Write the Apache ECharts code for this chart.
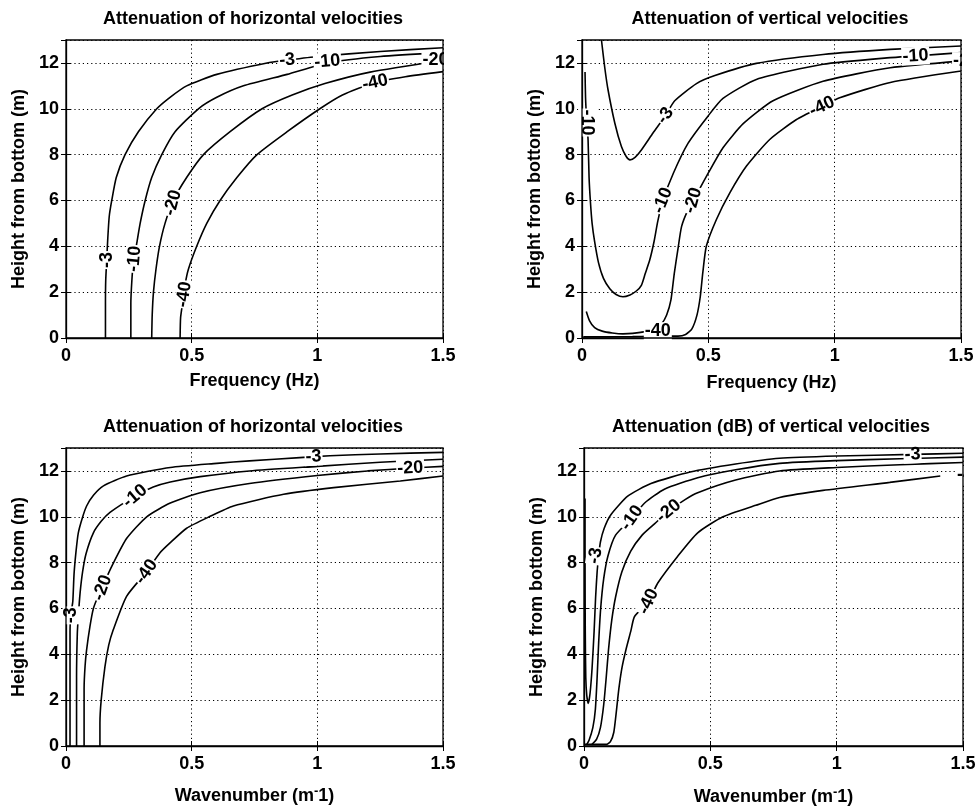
<!DOCTYPE html>
<html>
<head>
<meta charset="utf-8">
<script src="https://cdn.jsdelivr.net/npm/echarts/dist/echarts.min.js"></script>
<style>
html, body { margin: 0; padding: 0; background: #fff; }
#chart { width: 979px; height: 809px; }
</style>
</head>
<body>
<div id="chart"></div>
<script>
// Contour lines of attenuation (dB) versus height above the bottom.
// Each contour is a list of [x, height] points; labels are [x, height, level].

// Horizontal velocities vs frequency (Hz)
const hFreq3  = [[0.157,0],[0.157,1.5],[0.158,2.5],[0.162,3.4],[0.166,4.3],[0.172,5.3],[0.182,6.0],[0.2,7.0],[0.235,8.0],[0.288,9.0],[0.361,10.0],[0.414,10.5],[0.48,11.0],[0.6,11.5],[0.8,12.0],[0.88,12.12],[1.0,12.28],[1.25,12.5],[1.5,12.66]];
const hFreq10 = [[0.258,0],[0.258,1.5],[0.262,2.5],[0.268,3.3],[0.281,4.1],[0.295,5.0],[0.315,6.0],[0.341,7.0],[0.381,8.0],[0.434,9.0],[0.527,10.0],[0.6,10.5],[0.706,11.0],[0.88,11.5],[1.04,12.0],[1.25,12.28],[1.5,12.45]];
const hFreq20 = [[0.341,0],[0.343,1.0],[0.348,2.0],[0.358,3.0],[0.372,4.0],[0.394,5.0],[0.427,6.0],[0.48,7.0],[0.547,8.0],[0.653,9.0],[0.78,10.0],[0.9,10.6],[1.03,11.1],[1.21,11.6],[1.5,12.12]];
const hFreq40 = [[0.454,0],[0.456,0.9],[0.465,1.6],[0.475,2.4],[0.487,3.0],[0.52,4.0],[0.56,5.0],[0.613,6.0],[0.68,7.0],[0.76,8.0],[0.88,9.0],[1.01,10.0],[1.1,10.6],[1.23,11.15],[1.35,11.4],[1.5,11.62]];
const hFreqLabels = [[0.162,3.4,-3],[0.88,12.12,-3],[0.272,3.45,-10],[1.04,12.06,-10],[0.425,5.9,-20],[0.47,1.9,-40],[1.23,11.15,-40]];
const hFreqAngles = [90, 5, 85, 5, 75, 82, 12];
const hFreqEdge = [[1.47,12.12,-20]];

// Vertical velocities vs frequency (Hz)
const vFreq3  = [[0.077,13],[0.09,11.8],[0.103,10.83],[0.13,9.37],[0.156,8.35],[0.175,7.92],[0.19,7.77],[0.21,7.88],[0.235,8.2],[0.281,8.94],[0.33,9.7],[0.367,10.35],[0.453,11.1],[0.526,11.45],[0.69,11.98],[0.954,12.37],[1.22,12.59],[1.5,12.74]];
const vFreq10 = [[0.012,11.6],[0.014,10.5],[0.018,9.6],[0.024,8.65],[0.028,7.0],[0.033,6.0],[0.04,5.0],[0.05,4.2],[0.065,3.3],[0.085,2.6],[0.11,2.15],[0.135,1.9],[0.162,1.8],[0.19,1.88],[0.215,2.05],[0.235,2.3],[0.25,2.8],[0.268,3.4],[0.285,4.2],[0.3,5.1],[0.32,6.0],[0.362,7.2],[0.42,8.5],[0.5,9.7],[0.558,10.45],[0.69,11.28],[0.954,11.94],[1.22,12.23],[1.32,12.3],[1.5,12.45]];
const vFreq20 = [[0.017,1.16],[0.03,0.75],[0.05,0.45],[0.08,0.3],[0.12,0.22],[0.162,0.18],[0.2,0.2],[0.255,0.29],[0.29,0.42],[0.314,0.6],[0.335,1.0],[0.352,1.66],[0.365,2.8],[0.38,3.9],[0.394,4.86],[0.42,5.6],[0.46,6.4],[0.5,7.2],[0.558,8.3],[0.638,9.35],[0.756,10.35],[0.954,11.2],[1.22,11.79],[1.5,12.08]];
const vFreq40 = [[0.005,0.05],[0.1,0.05],[0.2,0.06],[0.3,0.08],[0.38,0.08],[0.41,0.15],[0.435,0.4],[0.455,1.0],[0.468,1.8],[0.478,2.84],[0.492,4.0],[0.532,5.17],[0.585,6.33],[0.651,7.5],[0.743,8.66],[0.849,9.53],[0.95,10.1],[1.02,10.48],[1.22,11.15],[1.5,11.65]];
const vFreqLabels = [[0.33,9.7,-3],[0.02,9.4,-10],[0.32,6.0,-10],[1.32,12.3,-10],[0.44,6.0,-20],[0.3,0.3,-40],[0.95,10.1,-40]];
const vFreqAngles = [55, -90, 68, 3, 74, 0, 25];
const vFreqEdge = [[1.52,12.08,-20]];

// Horizontal velocities vs wavenumber (1/m)
const hWave3  = [[0.016,0],[0.016,3],[0.016,5.0],[0.02,5.8],[0.027,6.3],[0.032,7.5],[0.04,8.5],[0.049,9.3],[0.065,9.95],[0.082,10.47],[0.11,10.95],[0.149,11.35],[0.241,11.78],[0.415,12.15],[0.6,12.33],[0.73,12.44],[0.93,12.58],[1.05,12.66],[1.25,12.74],[1.5,12.81]];
const hWave10 = [[0.042,0],[0.042,3],[0.045,4.9],[0.049,5.65],[0.056,6.67],[0.066,7.6],[0.08,8.4],[0.109,9.3],[0.14,9.8],[0.175,10.19],[0.275,10.9],[0.347,11.3],[0.415,11.52],[0.534,11.75],[0.73,12.0],[1.0,12.2],[1.25,12.38],[1.5,12.51]];
const hWave20 = [[0.072,0],[0.072,2.5],[0.076,3.5],[0.082,4.19],[0.095,5.2],[0.109,6.0],[0.13,6.6],[0.155,7.2],[0.182,7.84],[0.241,9.05],[0.321,10.0],[0.415,10.6],[0.534,11.05],[0.73,11.45],[1.0,11.8],[1.2,12.0],[1.37,12.12],[1.5,12.2]];
const hWave40 = [[0.135,0],[0.135,1.0],[0.14,2.0],[0.155,3.46],[0.17,4.4],[0.188,5.07],[0.241,6.53],[0.32,7.6],[0.374,8.43],[0.415,8.87],[0.48,9.5],[0.57,10.0],[0.666,10.47],[0.866,10.98],[1.065,11.27],[1.33,11.56],[1.5,11.78]];
const hWaveLabels = [[0.022,5.7,-3],[0.985,12.62,-3],[0.275,10.9,-10],[0.145,6.9,-20],[1.37,12.12,-20],[0.32,7.6,-40]];
const hWaveAngles = [90, 3, 40, 70, 3, 55];
const hWaveEdge = [];

// Vertical velocities vs wavenumber (1/m)
const vWave3  = [[0.004,10.8],[0.004,8.0],[0.005,5.0],[0.007,3.0],[0.011,2.2],[0.017,1.86],[0.024,2.3],[0.032,3.4],[0.04,5.0],[0.046,6.5],[0.052,7.6],[0.058,8.3],[0.065,8.9],[0.08,9.5],[0.107,10.1],[0.173,10.9],[0.265,11.45],[0.42,11.95],[0.6,12.3],[0.774,12.55],[1.0,12.65],[1.3,12.72],[1.5,12.77]];
const vWave10 = [[0.01,0.05],[0.02,0.25],[0.035,0.8],[0.045,1.6],[0.052,3.0],[0.058,4.5],[0.066,6.0],[0.078,7.3],[0.095,8.3],[0.125,9.2],[0.19,9.95],[0.24,10.6],[0.318,11.2],[0.45,11.7],[0.6,12.05],[0.774,12.33],[1.0,12.45],[1.25,12.53],[1.5,12.6]];
const vWave20 = [[0.03,0.05],[0.05,0.3],[0.065,0.8],[0.078,1.8],[0.088,3.0],[0.097,4.2],[0.11,5.5],[0.125,6.5],[0.15,7.6],[0.185,8.5],[0.23,9.2],[0.28,9.7],[0.335,10.25],[0.4,10.75],[0.45,11.05],[0.6,11.6],[0.774,12.0],[1.0,12.15],[1.25,12.27],[1.5,12.37]];
const vWave40 = [[0.0,0.07],[0.09,0.07],[0.105,0.2],[0.118,0.6],[0.128,1.5],[0.138,2.5],[0.15,3.4],[0.166,4.2],[0.185,5.0],[0.2,5.65],[0.255,6.3],[0.292,7.11],[0.371,8.28],[0.45,9.3],[0.55,10.0],[0.68,10.5],[0.774,10.84],[0.946,11.15],[1.21,11.5],[1.41,11.78]];
const vWaveLabels = [[0.045,8.3,-3],[1.3,12.72,-3],[0.19,9.95,-10],[0.335,10.25,-20],[0.255,6.3,-40]];
const vWaveAngles = [80, 2, 55, 40, 65];
const vWaveEdge = [[1.528,11.8,-40]];

// Axis ticks
const xTicks = { min: 0, max: 1.5, interval: 0.5 };
const yTicks = { min: 0, max: 13, interval: 2 };

const FONT = '"Liberation Sans", Arial, Helvetica, sans-serif';
const textBase = { color: '#000', fontFamily: FONT, fontSize: 18, fontWeight: 'bold' };

const panels = [
  { title: 'Attenuation of horizontal velocities', titleX: 253, titleY: 10,
    xName: 'Frequency (Hz)', xGap: 34, box: [66, 40, 377, 298],
    lines: [hFreq3, hFreq10, hFreq20, hFreq40], labels: hFreqLabels, angles: hFreqAngles, edge: hFreqEdge },
  { title: 'Attenuation of vertical velocities', titleX: 770, titleY: 10,
    xName: 'Frequency (Hz)', xGap: 36, box: [582, 40, 379, 298],
    lines: [vFreq3, vFreq10, vFreq20, vFreq40], labels: vFreqLabels, angles: vFreqAngles, edge: vFreqEdge },
  { title: 'Attenuation of horizontal velocities', titleX: 253, titleY: 418,
    xName: 'Wavenumber (m{sup|-}1)', xGap: 39, box: [66, 448, 377, 298],
    lines: [hWave3, hWave10, hWave20, hWave40], labels: hWaveLabels, angles: hWaveAngles, edge: hWaveEdge },
  { title: 'Attenuation (dB) of vertical velocities', titleX: 771, titleY: 418,
    xName: 'Wavenumber (m{sup|-}1)', xGap: 40, box: [584, 448, 379, 298],
    lines: [vWave3, vWave10, vWave20, vWave40], labels: vWaveLabels, angles: vWaveAngles, edge: vWaveEdge }
];

const grids = [], xAxes = [], yAxes = [], series = [], titles = [], masks = [];
const dotted = { show: true, lineStyle: { color: '#000', type: [1.2, 3], width: 1 } };
const innerTick = { show: true, inside: true, length: 5, lineStyle: { color: '#000', width: 1 } };
const labelStyle = Object.assign({ show: true, position: 'inside', backgroundColor: '#fff', padding: [0, 1],
  textBorderWidth: 0, formatter: prm => String(prm.value[2]) }, textBase);

panels.forEach((p, i) => {
  const [left, top, width, height] = p.box;
  grids.push({ left, top, width, height, show: true, borderColor: '#000', borderWidth: 1.3, z: 10 });
  titles.push({ text: p.title, left: p.titleX, top: p.titleY, textAlign: 'center', padding: 0,
    textStyle: Object.assign({}, textBase) });

  xAxes.push(Object.assign({ gridIndex: i, type: 'value', position: 'bottom' }, xTicks, {
    name: p.xName, nameLocation: 'middle', nameGap: p.xGap,
    nameTextStyle: Object.assign({}, textBase, {
      rich: { sup: Object.assign({}, textBase, { fontSize: 13, padding: [0, 0, 9, 0] }) }
    }),
    axisLine: { show: true, onZero: false, lineStyle: { color: '#000', width: 1.3 } },
    axisTick: innerTick,
    axisLabel: Object.assign({ margin: 9 }, textBase),
    splitLine: dotted
  }));
  xAxes.push(Object.assign({ gridIndex: i, type: 'value', position: 'top' }, xTicks, {
    axisLine: { show: false }, axisTick: innerTick, axisLabel: { show: false }, splitLine: { show: false }
  }));

  yAxes.push(Object.assign({ gridIndex: i, type: 'value', position: 'left' }, yTicks, {
    name: 'Height from bottom (m)', nameLocation: 'middle', nameGap: 38,
    nameTextStyle: Object.assign({}, textBase),
    axisLine: { show: true, onZero: false, lineStyle: { color: '#000', width: 1.3 } },
    axisTick: innerTick,
    axisLabel: Object.assign({ margin: 7, showMaxLabel: false }, textBase),
    splitLine: dotted
  }));
  yAxes.push(Object.assign({ gridIndex: i, type: 'value', position: 'right' }, yTicks, {
    axisLine: { show: false }, axisTick: innerTick, axisLabel: { show: false }, splitLine: { show: false }
  }));

  // contour lines
  p.lines.forEach(d => {
    series.push({ type: 'line', xAxisIndex: 2 * i, yAxisIndex: 2 * i, data: d,
      symbol: 'none', showSymbol: false, smooth: 0.2, silent: true, z: 3,
      lineStyle: { color: '#000', width: 1.6 } });
  });

  // inline level labels (plus those that run past the right edge of the frame)
  series.push({ type: 'scatter', xAxisIndex: 2 * i, yAxisIndex: 2 * i, symbolSize: 0, silent: true, z: 5,
    clip: false, itemStyle: { opacity: 1 },
    data: p.labels.map((d, k) => ({ value: d, label: { rotate: p.angles[k] } }))
      .concat(p.edge.map(d => ({ value: d }))),
    label: labelStyle
  });

  // blank strip beyond the right edge of the frame, hiding label overflow
  masks.push({ type: 'rect', z: 100, silent: true,
    shape: { x: left + width + 1, y: top - 2, width: 30, height: 70 },
    style: { fill: '#fff' } });
});

const chart = echarts.init(document.getElementById('chart'), null, { renderer: 'canvas' });
chart.setOption({
  animation: false,
  backgroundColor: '#fff',
  title: titles,
  grid: grids,
  xAxis: xAxes,
  yAxis: yAxes,
  series: series,
  graphic: { elements: masks }
});
</script>
</body>
</html>
